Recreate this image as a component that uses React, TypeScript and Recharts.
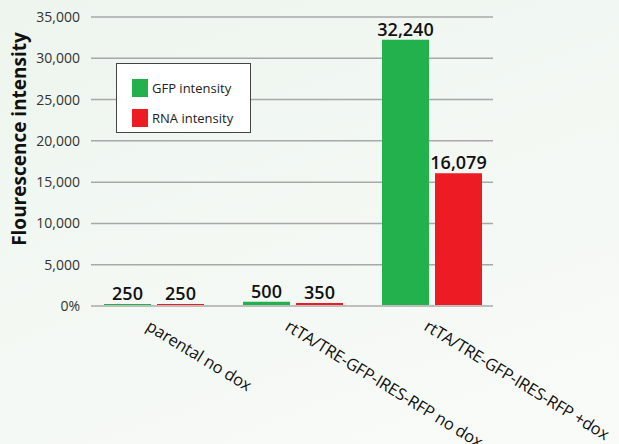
import { BarChart, Bar, XAxis, YAxis, CartesianGrid, LabelList } from 'recharts';

const categories = ['parental no dox', 'rtTA/TRE-GFP-IRES-RFP no dox', 'rtTA/TRE-GFP-IRES-RFP +dox'];
const gfpValues = [250, 500, 32240];
const rnaValues = [250, 350, 16079];
const yTicks = [0, 5000, 10000, 15000, 20000, 25000, 30000, 35000];
const seriesNames = ['GFP intensity', 'RNA intensity'];

const GREEN = '#22b14c';
const RED = '#ed1c24';
const FONT = '"Open Sans", "Noto Sans", sans-serif';

const data = categories.map((name, i) => ({ name, gfp: gfpValues[i], rna: rnaValues[i] }));

function formatY(v: number) {
  return v === 0 ? '0%' : v.toLocaleString('en-US');
}

function CategoryTick({ x, y, payload }: any) {
  const tx = x - 1;
  const ty = y + 3;
  return (
    <text
      x={tx}
      y={ty}
      transform={`rotate(31.5, ${tx}, ${ty})`}
      textAnchor="start"
      dominantBaseline="hanging"
      fontSize={16.5}
      letterSpacing={-0.15}
      fill="#111"
      fontFamily={FONT}
    >
      {payload.value}
    </text>
  );
}

function LegendBox() {
  const colors = [GREEN, RED];
  return (
    <div
      style={{
        position: 'absolute',
        left: 116,
        top: 63,
        width: 135,
        height: 70,
        background: '#fff',
        border: '1px solid #444',
        boxSizing: 'border-box',
        padding: '9px 0 0 15px',
        fontFamily: FONT,
        fontSize: 13,
        color: '#222',
      }}
    >
      {seriesNames.map((label, i) => (
        <div key={label} style={{ display: 'flex', alignItems: 'center', height: 30 }}>
          <span style={{ width: 16, height: 18, background: colors[i], marginRight: 4 }} />
          {label}
        </div>
      ))}
    </div>
  );
}

export default function App() {
  return (
    <div
      style={{
        position: 'absolute',
        left: 0,
        top: 0,
        width: 619,
        height: 444,
        overflow: 'hidden',
        background: 'linear-gradient(160deg, #edf5ee 0%, #f3f8f3 50%, #f9fbf9 100%)',
      }}
    >
      <BarChart
        width={619}
        height={444}
        data={data}
        margin={{ top: 17, right: 126, bottom: 0, left: 0 }}
        barSize={47}
        barGap={6}
      >
        <CartesianGrid vertical={false} stroke="#a8a8a8" strokeWidth={1.5} />
        <XAxis
          dataKey="name"
          height={138}
          tick={<CategoryTick />}
          tickLine={false}
          axisLine={{ stroke: '#bdbdbd', strokeWidth: 2 }}
          interval={0}
          padding={{ left: -7, right: -8 }}
        />
        <YAxis
          width={91}
          domain={[0, 35000]}
          ticks={yTicks}
          tickFormatter={formatY}
          tickLine={false}
          axisLine={false}
          tickMargin={5}
          tick={{ fill: '#333', fontSize: 14, fontFamily: FONT }}
          label={{
            content: () => (
              <text
                x={26}
                y={139}
                transform="rotate(-90, 26, 139)"
                textAnchor="middle"
                fontSize={19}
                fontWeight={700}
                fill="#111"
                fontFamily={FONT}
              >
                Flourescence intensity
              </text>
            ),
          }}
        />
        <Bar dataKey="gfp" name={seriesNames[0]} fill={GREEN} isAnimationActive={false}>
          <LabelList
            dataKey="gfp"
            position="top"
            offset={4}
            formatter={(v: any) => Number(v).toLocaleString('en-US')}
            style={{ fill: '#111', fontSize: 18, fontWeight: 600, fontFamily: FONT }}
          />
        </Bar>
        <Bar dataKey="rna" name={seriesNames[1]} fill={RED} isAnimationActive={false}>
          <LabelList
            dataKey="rna"
            position="top"
            offset={4}
            formatter={(v: any) => Number(v).toLocaleString('en-US')}
            style={{ fill: '#111', fontSize: 18, fontWeight: 600, fontFamily: FONT }}
          />
        </Bar>
      </BarChart>
      <LegendBox />
    </div>
  );
}
